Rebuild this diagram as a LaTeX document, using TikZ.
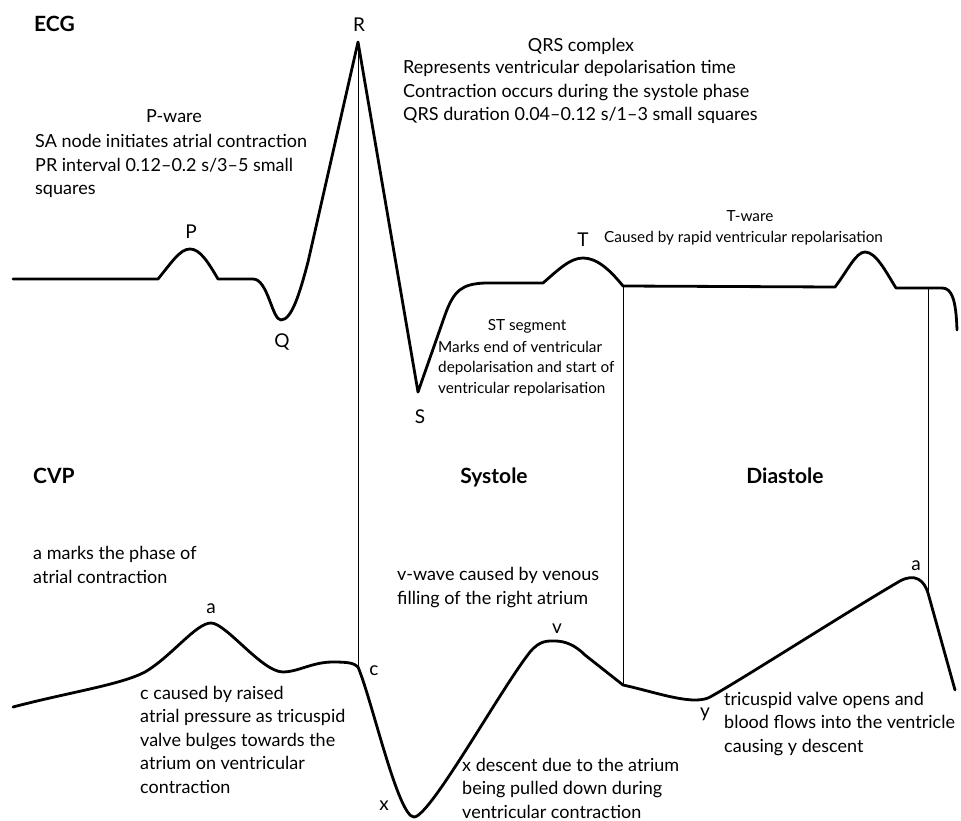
\documentclass[tikz,border=0pt]{standalone}
\usepackage{fontspec}
\setmainfont{Lato}
\def\mwavewidth{2.8pt}
\def\mguidewidth{0.9pt}
\def\mnotesize{\fontsize{18}{23.5}\selectfont}
\def\msmallsize{\fontsize{15.3}{20.5}\selectfont}
\tikzset{
	wave/.style={line width=\mwavewidth, line join=round, line cap=round},
	guide/.style={line width=\mguidewidth},
	heading/.style={font=\fontsize{21}{25}\selectfont\bfseries, inner sep=0pt},
	note/.style={font=\mnotesize, align=left, inner sep=0pt, anchor=base west},
	smallnote/.style={font=\msmallsize, align=left, inner sep=0pt, anchor=base west},
	wavelabel/.style={font=\fontsize{19}{23}\selectfont, inner sep=0pt, anchor=base},
	notetitle/.style={font=\mnotesize, inner sep=0pt, anchor=base},
}

\begin{document}
\begin{tikzpicture}[x=1pt, y=-1pt]
		\useasboundingbox (0,0) rectangle (961,821);
		% points on the two traces
		\coordinate (ecgP) at (190,249);
		\coordinate (ecgQ) at (281,320);
		\coordinate (ecgR) at (358,42);
		\coordinate (ecgS) at (418,392);
		\coordinate (ecgT) at (583,258);
		\coordinate (ecgTend) at (623,286);
		\coordinate (ecgPend) at (928,288);
		\coordinate (cvpA) at (211,623);
		\coordinate (cvpC) at (358,667);
		\coordinate (cvpX) at (414,817);
		\coordinate (cvpV) at (555,641);
		\coordinate (cvpVend) at (623,685);
		\coordinate (cvpY) at (708,698);
		\coordinate (cvpAend) at (928,593);
		% ECG trace
		\draw[wave] (13,279) -- (158,279)
			.. controls (172,262) and (180,249) .. (ecgP)
			.. controls (200,249) and (208,262) .. (218,279)
			-- (253,279)
			.. controls (268,279) and (272,320) .. (ecgQ)
			.. controls (292,320) and (300,292) .. (308,262)
			-- (ecgR) -- (ecgS) -- (445,315)
			.. controls (454,290) and (462,284) .. (485,283)
			-- (543,283)
			.. controls (558,270) and (570,258) .. (ecgT)
			.. controls (597,258) and (610,270) .. (ecgTend)
			-- (835,287)
			.. controls (848,270) and (856,252) .. (865,252)
			.. controls (876,252) and (886,272) .. (896,288)
			-- (ecgPend) -- (942,288)
			.. controls (952,288) and (956,300) .. (957,330);
		% CVP trace
		\draw[wave] (13,707)
			.. controls (70,692) and (120,685) .. (145,672)
			.. controls (172,656) and (196,623) .. (cvpA)
			.. controls (226,623) and (262,672) .. (283,672)
			.. controls (298,672) and (312,662) .. (333,662)
			.. controls (348,662) and (354,663) .. (cvpC)
			.. controls (372,700) and (398,817) .. (cvpX)
			.. controls (430,817) and (500,690) .. (530,652)
			.. controls (540,640) and (548,641) .. (cvpV)
			.. controls (565,641) and (575,645) .. (585,655)
			-- (cvpVend)
			.. controls (655,692) and (690,705) .. (cvpY)
			.. controls (725,690) and (850,610) .. (900,581)
			.. controls (915,573) and (924,580) .. (cvpAend)
			-- (955,690);
		% phase guides
		\draw[guide] (ecgR) -- (cvpC);
		\draw[guide] (ecgTend) -- (cvpVend);
		\draw[guide] (ecgPend) -- (cvpAend);
		% headings
		\node[heading, anchor=base west] (ecghead) at (34,32) {ECG};
		\node[heading, anchor=base west] (cvphead) at (33,483) {CVP};
		\node[heading, anchor=base] (systole) at (494,483) {Systole};
		\node[heading, anchor=base] (diastole) at (785,483) {Diastole};
		% wave letters
		\node[wavelabel] (lblR) at (359,32) {R};
		\node[wavelabel] (lblP) at (191,238) {P};
		\node[wavelabel] (lblQ) at (282,347) {Q};
		\node[wavelabel] (lblS) at (420,423) {S};
		\node[wavelabel] (lblT) at (583,247) {T};
		\node[wavelabel] (lblA) at (211,613) {a};
		\node[wavelabel] (lblC) at (374,675) {c};
		\node[wavelabel] (lblX) at (384,810) {x};
		\node[wavelabel] (lblV) at (557,633) {v};
		\node[wavelabel] (lblY) at (705,717) {y};
		\node[wavelabel] (lblAend) at (916,570) {a};
		% ECG notes (placed by their last line)
		\node[notetitle] (pwavetitle) at (174,123) {P-ware};
		\node[note] (pwavenote) at (35,195) {SA node initiates atrial contraction\\PR interval 0.12--0.2 s/3--5 small\\squares};
		\node[notetitle] (qrstitle) at (581,52) {QRS complex};
		\node[note] (qrsnote) at (403,121) {Represents ventricular depolarisation time\\Contraction occurs during the systole phase\\QRS duration 0.04--0.12 s/1--3 small squares};
		\node[notetitle, font=\msmallsize] (twavetitle) at (750,222) {T-ware};
		\node[smallnote] (twavenote) at (604,243) {Caused by rapid ventricular repolarisation};
		\node[notetitle, font=\msmallsize] (sttitle) at (527,330) {ST segment};
		\node[smallnote] (stnote) at (438,393) {Marks end of ventricular\\depolarisation and start of\\ventricular repolarisation};
		% CVP notes
		\node[note] (anote) at (33,583) {a marks the phase of\\atrial contraction};
		\node[note] (vnote) at (397,604) {v-wave caused by venous\\filling of the right atrium};
		\node[note] (cnote) at (140,793) {c caused by raised\\atrial pressure as tricuspid\\valve bulges towards the\\atrium on ventricular\\contraction};
		\node[note] (xnote) at (462,818) {x descent due to the atrium\\being pulled down during\\ventricular contraction};
		\node[note] (ynote) at (724,752) {tricuspid valve opens and\\blood flows into the ventricle\\causing y descent};
	\end{tikzpicture}
\end{document}
